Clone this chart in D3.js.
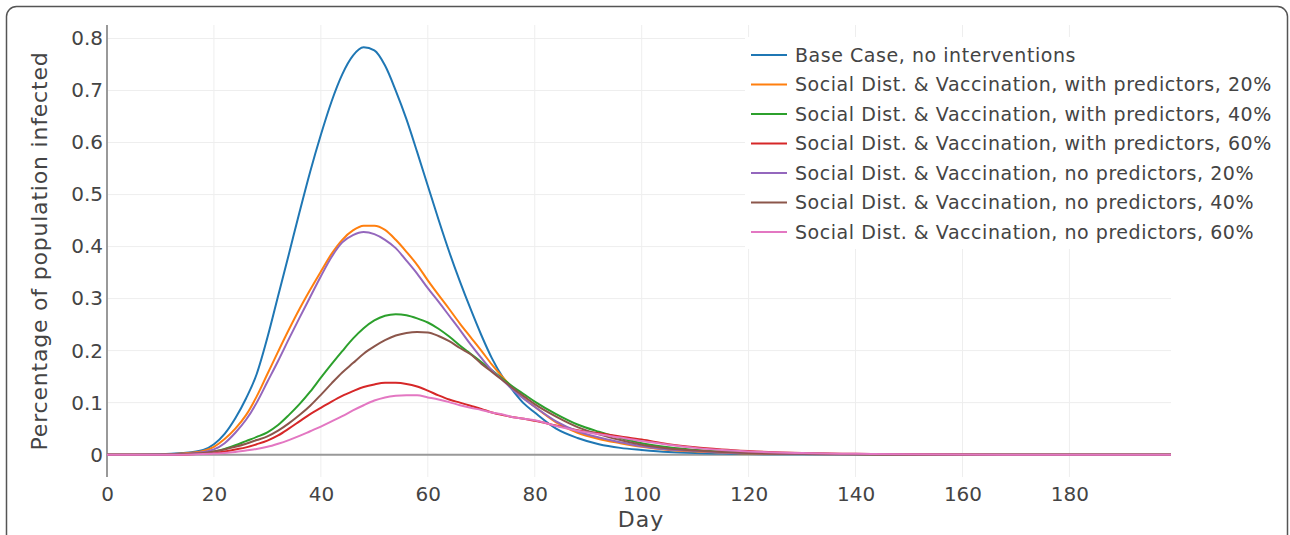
<!DOCTYPE html>
<html>
<head>
<meta charset="utf-8">
<script src="https://cdn.jsdelivr.net/npm/d3@7"></script>
<style>
  body { margin: 0; background: #fff; }
  text { font-family: "DejaVu Sans", Verdana, sans-serif; fill: #444; }
</style>
</head>
<body>
<div id="grafico"></div>
<script>
// Dias da simulação
const days = [0, 5, 10, 14, 18, 20, 22, 24, 26, 28, 30, 32, 34, 36, 38, 40, 42, 44, 46, 48,
  50, 52, 54, 56, 58, 60, 62, 64, 66, 68, 70, 72, 74, 76, 78, 80, 84, 88, 92, 96,
  100, 105, 110, 115, 120, 130, 140, 150, 170, 199]

// Fração da população infectada, uma array por cenário
const baseCase = [0, 0, 0.0005, 0.003, 0.009, 0.02, 0.04, 0.07, 0.108, 0.155, 0.225, 0.305, 0.385, 0.466, 0.544, 0.615, 0.679, 0.731, 0.767, 0.783,
  0.777, 0.748, 0.70, 0.645, 0.582, 0.517, 0.452, 0.39, 0.333, 0.28, 0.23, 0.185, 0.149, 0.122, 0.098, 0.081, 0.05, 0.032, 0.02, 0.013,
  0.009, 0.005, 0.003, 0.002, 0.001, 0.0005, 0.0002, 0, 0, 0]
const withPred20 = [0, 0, 0, 0.002, 0.007, 0.015, 0.03, 0.05, 0.076, 0.112, 0.155, 0.198, 0.24, 0.28, 0.317, 0.352, 0.386, 0.413, 0.431, 0.44,
  0.44, 0.432, 0.413, 0.39, 0.365, 0.335, 0.307, 0.28, 0.252, 0.226, 0.2, 0.173, 0.149, 0.127, 0.108, 0.092, 0.062, 0.042, 0.03, 0.022,
  0.015, 0.009, 0.006, 0.004, 0.002, 0.001, 0.0005, 0, 0, 0]
const withPred40 = [0, 0, 0, 0.001, 0.003, 0.006, 0.011, 0.018, 0.026, 0.034, 0.043, 0.057, 0.076, 0.097, 0.121, 0.148, 0.174, 0.199, 0.223, 0.243,
  0.258, 0.267, 0.27, 0.268, 0.262, 0.254, 0.242, 0.227, 0.21, 0.194, 0.178, 0.162, 0.146, 0.13, 0.116, 0.102, 0.078, 0.058, 0.044, 0.032,
  0.022, 0.014, 0.009, 0.006, 0.004, 0.002, 0.001, 0, 0, 0]
const withPred60 = [0, 0, 0, 0, 0.002, 0.003, 0.006, 0.01, 0.014, 0.02, 0.027, 0.037, 0.05, 0.064, 0.078, 0.09, 0.102, 0.113, 0.122, 0.13,
  0.135, 0.138, 0.138, 0.136, 0.131, 0.123, 0.114, 0.106, 0.1, 0.094, 0.088, 0.081, 0.076, 0.072, 0.069, 0.065, 0.056, 0.047, 0.041, 0.035,
  0.029, 0.02, 0.014, 0.01, 0.007, 0.003, 0.0015, 0.0005, 0, 0]
const noPred20 = [0, 0, 0, 0.001, 0.005, 0.01, 0.022, 0.042, 0.067, 0.1, 0.14, 0.18, 0.222, 0.263, 0.303, 0.343, 0.38, 0.408, 0.422, 0.428,
  0.424, 0.413, 0.397, 0.373, 0.348, 0.32, 0.294, 0.267, 0.24, 0.212, 0.186, 0.162, 0.143, 0.124, 0.107, 0.092, 0.064, 0.045, 0.033, 0.024,
  0.016, 0.01, 0.007, 0.004, 0.003, 0.001, 0.0005, 0, 0, 0]
const noPred40 = [0, 0, 0, 0.001, 0.003, 0.006, 0.01, 0.015, 0.021, 0.028, 0.035, 0.046, 0.06, 0.076, 0.094, 0.115, 0.137, 0.158, 0.176, 0.194,
  0.208, 0.22, 0.229, 0.234, 0.236, 0.235, 0.228, 0.218, 0.205, 0.193, 0.175, 0.159, 0.143, 0.127, 0.112, 0.097, 0.073, 0.053, 0.039, 0.028,
  0.019, 0.012, 0.008, 0.005, 0.003, 0.0015, 0.0007, 0, 0, 0]
const noPred60 = [0, 0, 0, 0, 0.001, 0.002, 0.003, 0.005, 0.008, 0.011, 0.015, 0.021, 0.028, 0.036, 0.045, 0.054, 0.064, 0.074, 0.085, 0.095,
  0.104, 0.11, 0.113, 0.114, 0.114, 0.11, 0.106, 0.101, 0.095, 0.09, 0.086, 0.081, 0.077, 0.072, 0.069, 0.066, 0.055, 0.046, 0.039, 0.033,
  0.026, 0.019, 0.013, 0.009, 0.006, 0.003, 0.0015, 0.0005, 0, 0]

const seriesNames = [
  'Base Case, no interventions',
  'Social Dist. & Vaccination, with predictors, 20%',
  'Social Dist. & Vaccination, with predictors, 40%',
  'Social Dist. & Vaccination, with predictors, 60%',
  'Social Dist. & Vaccination, no predictors, 20%',
  'Social Dist. & Vaccination, no predictors, 40%',
  'Social Dist. & Vaccination, no predictors, 60%'
]
const seriesValues = [baseCase, withPred20, withPred40, withPred60, noPred20, noPred40, noPred60]

const xTicks = [0, 20, 40, 60, 80, 100, 120, 140, 160, 180]
const yTicks = [0, 0.1, 0.2, 0.3, 0.4, 0.5, 0.6, 0.7, 0.8]

// Definição das cores
const cores = ['#1f77b4', '#ff7f0e', '#2ca02c', '#d62728', '#9467bd', '#8c564b', '#e377c2']

// Configurações do gráfico
let width = 1290, height = 535
let plot = { left: 107, right: 1171, top: 25, bottom: 477 }

let svg = d3.select('#grafico').append('svg')
  .attr('width', width)
  .attr('height', height)

// Moldura arredondada
svg.append('rect')
  .attr('x', 6.5).attr('y', 6.5)
  .attr('width', 1281).attr('height', 600)
  .attr('rx', 10)
  .attr('fill', '#fff')
  .attr('stroke', '#555')
  .attr('stroke-width', 1.5)

// Escalas
let x = d3.scaleLinear().domain([0, 199]).range([plot.left, plot.right])
let y = d3.scaleLinear().domain([-0.043, 0.826]).range([plot.bottom, plot.top])

// Grade
svg.append('g').selectAll('line').data(xTicks.filter(d => d > 0)).join('line')
  .attr('x1', d => x(d)).attr('x2', d => x(d))
  .attr('y1', plot.top).attr('y2', plot.bottom)
  .attr('stroke', '#eee').attr('stroke-width', 1)

svg.append('g').selectAll('line').data(yTicks.filter(d => d > 0)).join('line')
  .attr('x1', plot.left).attr('x2', plot.right)
  .attr('y1', d => y(d)).attr('y2', d => y(d))
  .attr('stroke', '#eee').attr('stroke-width', 1)

// Linha do zero e eixo y
svg.append('line')
  .attr('x1', plot.left).attr('x2', plot.right)
  .attr('y1', y(0)).attr('y2', y(0))
  .attr('stroke', '#999').attr('stroke-width', 2)

svg.append('line')
  .attr('x1', plot.left).attr('x2', plot.left)
  .attr('y1', plot.top).attr('y2', plot.bottom)
  .attr('stroke', '#999').attr('stroke-width', 2)

// Eixos (só os rótulos)
let eixoX = svg.append('g')
  .attr('transform', `translate(0, ${plot.bottom})`)
  .call(d3.axisBottom(x).tickValues(xTicks).tickSize(0).tickPadding(10))
eixoX.select('.domain').remove()
eixoX.selectAll('text').style('font-size', '20px').attr('fill', '#444')

let eixoY = svg.append('g')
  .attr('transform', `translate(${plot.left}, 0)`)
  .call(d3.axisLeft(y).tickValues(yTicks).tickSize(0).tickPadding(4)
    .tickFormat(d => d === 0 ? '0' : d3.format('.1f')(d)))
eixoY.select('.domain').remove()
eixoY.selectAll('text').style('font-size', '20px').attr('fill', '#444')

// Curvas
let line = d3.line()
  .x((d, i) => x(days[i]))
  .y(d => y(d))
  .curve(d3.curveMonotoneX)

seriesValues.forEach((vals, n) => {
  svg.append('path')
    .datum(vals)
    .attr('d', line)
    .attr('fill', 'none')
    .attr('stroke', cores[n])
    .attr('stroke-width', 2)
})

// Títulos dos eixos
svg.append('text')
  .attr('x', 641).attr('y', 527)
  .style('text-anchor', 'middle')
  .style('font-size', '22px')
  .style('letter-spacing', '1px')
  .text('Day')

svg.append('text')
  .attr('transform', 'translate(47, 251) rotate(-90)')
  .style('text-anchor', 'middle')
  .style('font-size', '22px')
  .style('letter-spacing', '0.8px')
  .text('Percentage of population infected')

// Legenda
let legenda = svg.append('g').attr('transform', 'translate(745, 37)')
legenda.append('rect')
  .attr('width', 538).attr('height', 212)
  .attr('fill', '#fff')

seriesNames.forEach((nome, n) => {
  let yy = 18 + n * 29.5
  legenda.append('line')
    .attr('x1', 6).attr('x2', 42)
    .attr('y1', yy).attr('y2', yy)
    .attr('stroke', cores[n]).attr('stroke-width', 2)
  legenda.append('text')
    .attr('x', 50).attr('y', yy)
    .attr('dy', '0.35em')
    .style('font-size', '19px')
    .style('letter-spacing', '0.55px')
    .text(nome)
})
</script>
</body>
</html>
